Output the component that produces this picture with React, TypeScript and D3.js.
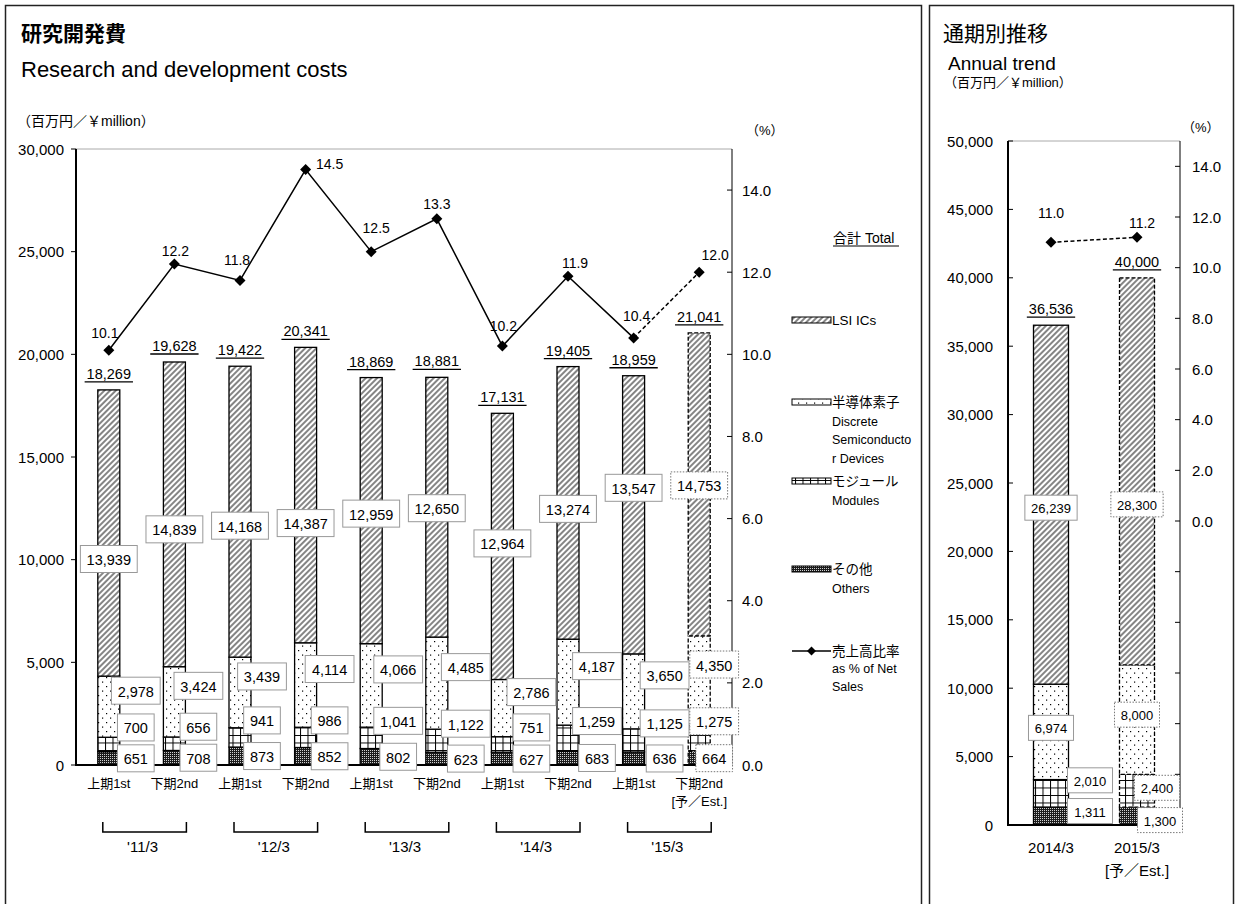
import React from 'react';
import * as d3 from 'd3';

const FONT = "'Liberation Sans', Arial, 'Noto Sans CJK JP', sans-serif";

// ---------- data: half-year chart ----------
const halfLabels = ['上期1st', '下期2nd', '上期1st', '下期2nd', '上期1st', '下期2nd', '上期1st', '下期2nd', '上期1st', '下期2nd'];
const halfSubLabels = ['', '', '', '', '', '', '', '', '', '[予／Est.]'];
const fiscalYears = ["'11/3", "'12/3", "'13/3", "'14/3", "'15/3"];
const lsiValues = [13939, 14839, 14168, 14387, 12959, 12650, 12964, 13274, 13547, 14753];
const discreteValues = [2978, 3424, 3439, 4114, 4066, 4485, 2786, 4187, 3650, 4350];
const moduleValues = [700, 656, 941, 986, 1041, 1122, 751, 1259, 1125, 1275];
const otherValues = [651, 708, 873, 852, 802, 623, 627, 683, 636, 664];
const totalValues = [18269, 19628, 19422, 20341, 18869, 18881, 17131, 19405, 18959, 21041];
const ratioValues = [10.1, 12.2, 11.8, 14.5, 12.5, 13.3, 10.2, 11.9, 10.4, 12.0];
const estimateFlags = [false, false, false, false, false, false, false, false, false, true];

// ---------- data: annual chart ----------
const annualLabels = ['2014/3', '2015/3'];
const annualSubLabels = ['', '[予／Est.]'];
const annualLsi = [26239, 28300];
const annualDiscrete = [6974, 8000];
const annualModules = [2010, 2400];
const annualOthers = [1311, 1300];
const annualTotals = [36536, 40000];
const annualRatio = [11.0, 11.2];
const annualEstimate = [false, true];

// ---------- tick values ----------
const leftTicks = [0, 5000, 10000, 15000, 20000, 25000, 30000];
const rightTicks = [0, 2, 4, 6, 8, 10, 12, 14];
const annualLeftTicks = [0, 5000, 10000, 15000, 20000, 25000, 30000, 35000, 40000, 45000, 50000];
const annualRightTicks = [-12, -10, -8, -6, -4, -2, 0, 2, 4, 6, 8, 10, 12, 14];

// ---------- label layout nudges (px) ----------
const ratioLabelShift = [[-4, -17], [1, -13], [-3, -20], [24, -6], [5, -24], [0, -15], [1, -20], [7, -13], [3, -22], [16, -17]];
const lsiLabelShift = [26, 15, 14, 28, 3, 1, -3, 6, -27, 1];
const sideLabelDx = [27, 24, 22, 24, 27, 29, 29, 29, 31, 15];
const annualLabelShift: Record<string, number[][]> = {
  lsi: [[0, 3], [0, 33]],
  discrete: [[0, -4], [0, -5]],
  modules: [[39, -13], [20, -3]],
  others: [[39, -5], [23, 4]],
};

const KEYS = ['others', 'modules', 'discrete', 'lsi'];
const FILLS: Record<string, string> = {
  lsi: 'url(#hatch)', discrete: 'url(#dots)', modules: 'url(#grid)', others: 'url(#dark)',
};

const fmt = d3.format(',');
const fmt1 = d3.format('.1f');

function textW(s: string, fs: number) {
  let w = 0;
  for (const c of s) w += /[0-9]/.test(c) ? 0.556 : 0.278;
  return w * fs;
}

function diamond(cx: number, cy: number, r: number) {
  return `M${cx},${cy - r}L${cx + r},${cy}L${cx},${cy + r}L${cx - r},${cy}Z`;
}

function Box({ cx, cy, text, fs, h, dotted }: { cx: number; cy: number; text: string; fs: number; h: number; dotted: boolean }) {
  const w = textW(text, fs) + 12.5;
  return (
    <g>
      <rect x={cx - w / 2} y={cy - h / 2} width={w} height={h} fill="#fff" stroke={dotted ? '#777' : '#999'}
        strokeWidth={1} strokeDasharray={dotted ? '1.5 1.5' : undefined} />
      <text x={cx} y={cy + 1} textAnchor="middle" dominantBaseline="central" fontSize={fs} fill="#000">{text}</text>
    </g>
  );
}

function TotalLabel({ cx, top, text }: { cx: number; top: number; text: string }) {
  const fs = 14.5;
  const w = textW(text, fs) + 4;
  return (
    <g>
      <text x={cx} y={top - 16} textAnchor="middle" dominantBaseline="central" fontSize={fs}>{text}</text>
      <line x1={cx - w / 2} x2={cx + w / 2} y1={top - 8} y2={top - 8} stroke="#000" strokeWidth={1.3} />
    </g>
  );
}

export default function App() {
  // ---------- half-year chart scales ----------
  const idx = d3.range(halfLabels.length);
  const x = d3.scaleBand<number>().domain(idx).range([76, 732]);
  const cx = (i: number) => (x(i) as number) + x.bandwidth() / 2;
  const y = d3.scaleLinear().domain([0, 30000]).range([765, 149]);
  const yR = d3.scaleLinear().domain([0, 15]).range([765, 149]);
  const bw = 22;

  const rows = idx.map((i) => ({ others: otherValues[i], modules: moduleValues[i], discrete: discreteValues[i], lsi: lsiValues[i] }));
  const stacked = d3.stack<any>().keys(KEYS)(rows);

  const solidLine = d3.line<number>().x((_, i) => cx(i)).y((d) => yR(d));
  const solidPath = solidLine(ratioValues.slice(0, 9)) || '';
  const dashPath = d3.line<number>().x((_, i) => cx(8 + i)).y((d) => yR(d))(ratioValues.slice(8)) || '';

  // ---------- annual chart scales ----------
  const aidx = d3.range(annualLabels.length);
  const xa = d3.scaleBand<number>().domain(aidx).range([1008, 1180]);
  const acx = (i: number) => (xa(i) as number) + xa.bandwidth() / 2;
  const ya = d3.scaleLinear().domain([0, 50000]).range([825, 141]);
  const yaR = d3.scaleLinear().domain([-12, 15]).range([825, 141]);
  const abw = 35;
  const arows = aidx.map((i) => ({ others: annualOthers[i], modules: annualModules[i], discrete: annualDiscrete[i], lsi: annualLsi[i] }));
  const astacked = d3.stack<any>().keys(KEYS)(arows);
  const aLine = d3.line<number>().x((_, i) => acx(i)).y((d) => yaR(d))(annualRatio) || '';

  const sideOffsets: Record<string, number> = { discrete: -16, modules: -17, others: 0 };

  const legendItems = [
    { key: 'lsi', y: 320, lines: ['LSI ICs'] },
    { key: 'discrete', y: 402, lines: ['半導体素子', 'Discrete', 'Semiconducto', 'r Devices'] },
    { key: 'modules', y: 481, lines: ['モジュール', 'Modules'] },
    { key: 'others', y: 569, lines: ['その他', 'Others'] },
  ];

  return (
    <svg width={1237} height={904} style={{ position: 'absolute', left: 0, top: 0, background: '#fff' }}
      fontFamily={FONT}>
      <defs>
        <pattern id="hatch" patternUnits="userSpaceOnUse" width={4} height={4} patternTransform="rotate(45)">
          <rect width={4} height={4} fill="#fff" />
          <line x1={2} y1={0} x2={2} y2={4} stroke="#333" strokeWidth={1.2} />
        </pattern>
        <pattern id="dots" patternUnits="userSpaceOnUse" width={8} height={9}>
          <rect width={8} height={9} fill="#fff" />
          <rect x={2} y={2} width={1.2} height={1.2} fill="#000" />
          <rect x={6} y={6.5} width={1.2} height={1.2} fill="#000" />
        </pattern>
        <pattern id="grid" patternUnits="userSpaceOnUse" width={7.5} height={7.5}>
          <rect width={7.5} height={7.5} fill="#fff" />
          <path d="M0,0.5H7.5M0.5,0V7.5" stroke="#000" strokeWidth={1} />
        </pattern>
        <pattern id="dark" patternUnits="userSpaceOnUse" width={2} height={2}>
          <rect width={2} height={2} fill="#1c1c1c" />
          <rect x={0} y={0} width={1} height={1} fill="#cfcfcf" />
        </pattern>
      </defs>

      {/* panel frames */}
      <rect x={5.5} y={5.5} width={916} height={930} fill="none" stroke="#222" strokeWidth={1.5} />
      <rect x={929.5} y={5.5} width={304} height={930} fill="none" stroke="#222" strokeWidth={1.5} />

      {/* titles */}
      <text x={21} y={41} fontSize={21} fontWeight="bold" fontFamily="'Noto Sans CJK JP', sans-serif">研究開発費</text>
      <text x={21} y={77} fontSize={22}>Research and development costs</text>
      <text x={17} y={121} fontSize={14} dominantBaseline="central">（百万円／￥million）</text>
      <text x={746} y={130} fontSize={13} dominantBaseline="central">（%）</text>

      {/* ---------- half-year chart ---------- */}
      <line x1={76} x2={732} y1={149} y2={149} stroke="#aaa" strokeWidth={1} />
      <line x1={732} x2={732} y1={149} y2={765} stroke="#000" strokeWidth={1} />
      {leftTicks.map((t) => (
        <g key={'lt' + t}>
          <line x1={71} x2={76} y1={y(t)} y2={y(t)} stroke="#000" strokeWidth={1} />
          <text x={64} y={y(t)} textAnchor="end" dominantBaseline="central" fontSize={15}>{fmt(t)}</text>
        </g>
      ))}
      {rightTicks.map((t) => (
        <g key={'rt' + t}>
          <line x1={727} x2={732} y1={yR(t)} y2={yR(t)} stroke="#000" strokeWidth={1} />
          <text x={742} y={yR(t)} textAnchor="start" dominantBaseline="central" fontSize={15}>{fmt1(t)}</text>
        </g>
      ))}

      {/* bars */}
      {stacked.map((s) => (
        <g key={s.key}>
          {s.map((d, i) => (
            <rect key={i} x={cx(i) - bw / 2} y={y(d[1])} width={bw} height={y(d[0]) - y(d[1])}
              fill={FILLS[s.key]} stroke="#000" strokeWidth={1.3}
              strokeDasharray={estimateFlags[i] ? '4 2' : undefined} />
          ))}
        </g>
      ))}

      <line x1={76} x2={76} y1={149} y2={766} stroke="#000" strokeWidth={2} />
      <line x1={75} x2={732} y1={765} y2={765} stroke="#000" strokeWidth={2} />

      {/* ratio line */}
      <path d={solidPath} fill="none" stroke="#000" strokeWidth={1.5} />
      <path d={dashPath} fill="none" stroke="#000" strokeWidth={1.5} strokeDasharray="4 2.5" />
      {ratioValues.map((v, i) => (
        <g key={'rp' + i}>
          <path d={diamond(cx(i), yR(v), 5.5)} fill="#000" />
          <text x={cx(i) + ratioLabelShift[i][0]} y={yR(v) + ratioLabelShift[i][1]} textAnchor="middle"
            dominantBaseline="central" fontSize={14}>{fmt1(v)}</text>
        </g>
      ))}

      {/* segment labels */}
      {stacked.map((s) => (
        <g key={'lab' + s.key}>
          {s.map((d, i) => {
            const mid = (y(d[0]) + y(d[1])) / 2;
            const val = (d.data as any)[s.key];
            if (s.key === 'lsi') {
              return <Box key={i} cx={cx(i)} cy={mid + lsiLabelShift[i]} text={fmt(val)} fs={14.5} h={27} dotted={estimateFlags[i]} />;
            }
            return <Box key={i} cx={cx(i) + sideLabelDx[i]} cy={mid + sideOffsets[s.key]} text={fmt(val)} fs={14.5} h={27} dotted={estimateFlags[i]} />;
          })}
        </g>
      ))}

      {/* totals */}
      {totalValues.map((t, i) => (
        <TotalLabel key={'tot' + i} cx={cx(i)} top={y(stacked[3][i][1])} text={fmt(t)} />
      ))}

      {/* category labels */}
      {halfLabels.map((l, i) => (
        <g key={'cat' + i}>
          <text x={cx(i)} y={783} textAnchor="middle" dominantBaseline="central" fontSize={13}>{l}</text>
          {halfSubLabels[i] && (
            <text x={cx(i)} y={801} textAnchor="middle" dominantBaseline="central" fontSize={13}>{halfSubLabels[i]}</text>
          )}
        </g>
      ))}
      {fiscalYears.map((fy, g) => {
        const x1 = cx(g * 2) - 6;
        const x2 = cx(g * 2 + 1) + 12;
        return (
          <g key={'fy' + g}>
            <path d={`M${x1},822V832H${x2}V822`} fill="none" stroke="#000" strokeWidth={1.5} />
            <text x={(x1 + x2) / 2 - 2} y={846} textAnchor="middle" dominantBaseline="central" fontSize={15}>{fy}</text>
          </g>
        );
      })}

      {/* legend */}
      <text x={833} y={238} fontSize={14} dominantBaseline="central">合計 Total</text>
      <line x1={833} x2={899} y1={246} y2={246} stroke="#000" strokeWidth={1} />
      {legendItems.map((it) => (
        <g key={'leg' + it.key}>
          <rect x={792} y={it.y - 3} width={39} height={6} fill={FILLS[it.key]} stroke="#000" strokeWidth={1} />
          {it.lines.map((ln, k) => (
            <text key={k} x={832} y={it.y + (k === 0 ? 0 : 1 + k * 18.7)} fontSize={k === 0 ? 13.5 : 12.5}
              dominantBaseline="central">{ln}</text>
          ))}
        </g>
      ))}
      <line x1={792} x2={831} y1={651} y2={651} stroke="#000" strokeWidth={1.5} />
      <path d={diamond(811.5, 651, 4.5)} fill="#000" />
      <text x={832} y={651} fontSize={13.5} dominantBaseline="central">売上高比率</text>
      <text x={832} y={669} fontSize={12.5} dominantBaseline="central">as % of Net</text>
      <text x={832} y={687} fontSize={12.5} dominantBaseline="central">Sales</text>

      {/* ---------- annual chart ---------- */}
      <text x={943} y={41} fontSize={21} fontFamily="'Noto Sans CJK JP', sans-serif">通期別推移</text>
      <text x={948} y={63} fontSize={19} dominantBaseline="central">Annual trend</text>
      <text x={944} y={82} fontSize={13} dominantBaseline="central">（百万円／￥million）</text>
      <text x={1182} y={127} fontSize={13} dominantBaseline="central">（%）</text>

      <line x1={1008} x2={1180} y1={141} y2={141} stroke="#aaa" strokeWidth={1} />
      <line x1={1180} x2={1180} y1={141} y2={825} stroke="#000" strokeWidth={1} />
      {annualLeftTicks.map((t) => (
        <g key={'alt' + t}>
          <line x1={1008} x2={1013} y1={ya(t)} y2={ya(t)} stroke="#000" strokeWidth={1} />
          <text x={993} y={ya(t)} textAnchor="end" dominantBaseline="central" fontSize={15}>{fmt(t)}</text>
        </g>
      ))}
      {annualRightTicks.map((t) => (
        <g key={'art' + t}>
          <line x1={1175} x2={1180} y1={yaR(t)} y2={yaR(t)} stroke="#000" strokeWidth={1} />
          {t >= 0 && (
            <text x={1192} y={yaR(t)} textAnchor="start" dominantBaseline="central" fontSize={15}>{fmt1(t)}</text>
          )}
        </g>
      ))}

      {astacked.map((s) => (
        <g key={'a' + s.key}>
          {s.map((d, i) => (
            <rect key={i} x={acx(i) - abw / 2} y={ya(d[1])} width={abw} height={ya(d[0]) - ya(d[1])}
              fill={FILLS[s.key]} stroke="#000" strokeWidth={1.3}
              strokeDasharray={annualEstimate[i] ? '4 2' : undefined} />
          ))}
        </g>
      ))}
      <line x1={1008} x2={1008} y1={141} y2={826} stroke="#000" strokeWidth={2} />
      <line x1={1007} x2={1180} y1={825} y2={825} stroke="#000" strokeWidth={2} />

      <path d={aLine} fill="none" stroke="#000" strokeWidth={1.5} strokeDasharray="4 2.5" />
      {annualRatio.map((v, i) => (
        <g key={'arp' + i}>
          <path d={diamond(acx(i), yaR(v), 5.5)} fill="#000" />
          <text x={acx(i) + (i === 0 ? 0 : 5)} y={yaR(v) + (i === 0 ? -29 : -14)} textAnchor="middle"
            dominantBaseline="central" fontSize={14}>{fmt1(v)}</text>
        </g>
      ))}

      {astacked.map((s) => (
        <g key={'alab' + s.key}>
          {s.map((d, i) => {
            const mid = (ya(d[0]) + ya(d[1])) / 2;
            const val = (d.data as any)[s.key];
            const sh = annualLabelShift[s.key][i];
            return <Box key={i} cx={acx(i) + sh[0]} cy={mid + sh[1]} text={fmt(val)} fs={13} h={25} dotted={annualEstimate[i]} />;
          })}
        </g>
      ))}

      {annualTotals.map((t, i) => (
        <TotalLabel key={'atot' + i} cx={acx(i)} top={ya(astacked[3][i][1])} text={fmt(t)} />
      ))}

      {annualLabels.map((l, i) => (
        <g key={'acat' + i}>
          <text x={acx(i)} y={847} textAnchor="middle" dominantBaseline="central" fontSize={15}>{l}</text>
          {annualSubLabels[i] && (
            <text x={acx(i)} y={870} textAnchor="middle" dominantBaseline="central" fontSize={15}>{annualSubLabels[i]}</text>
          )}
        </g>
      ))}
    </svg>
  );
}
